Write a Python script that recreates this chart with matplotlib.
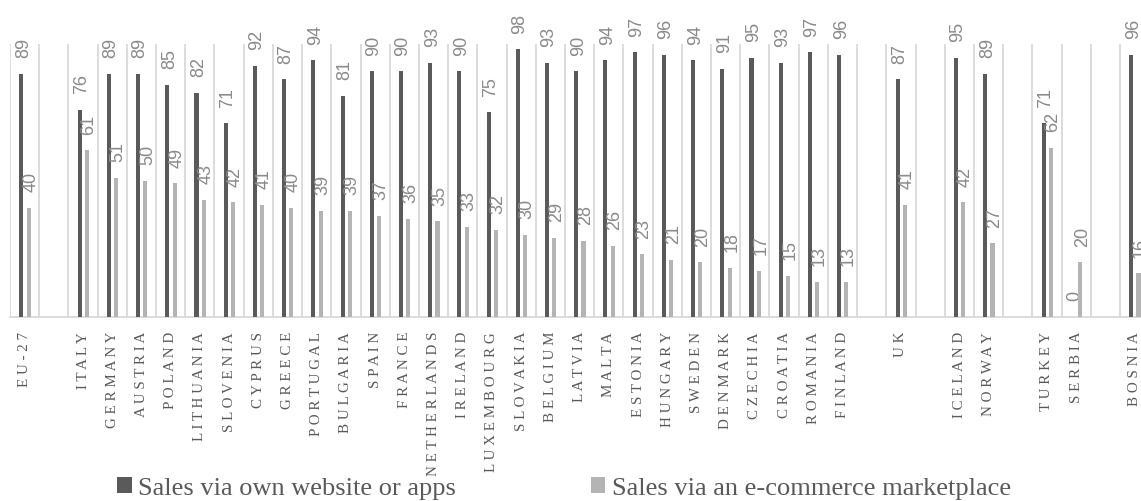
import numpy as np
import matplotlib.pyplot as plt
from matplotlib.patches import Patch

# categories ('' = empty slot between groups)
countries = ['EU-27', '', 'ITALY', 'GERMANY', 'AUSTRIA', 'POLAND', 'LITHUANIA', 'SLOVENIA',
             'CYPRUS', 'GREECE', 'PORTUGAL', 'BULGARIA', 'SPAIN', 'FRANCE', 'NETHERLANDS',
             'IRELAND', 'LUXEMBOURG', 'SLOVAKIA', 'BELGIUM', 'LATVIA', 'MALTA', 'ESTONIA',
             'HUNGARY', 'SWEDEN', 'DENMARK', 'CZECHIA', 'CROATIA', 'ROMANIA', 'FINLAND',
             '', 'UK', '', 'ICELAND', 'NORWAY', '', 'TURKEY', 'SERBIA', '', 'BOSNIA']
own_site = [89, None, 76, 89, 89, 85, 82, 71, 92, 87, 94, 81, 90, 90, 93, 90, 75, 98, 93,
            90, 94, 97, 96, 94, 91, 95, 93, 97, 96, None, 87, None, 95, 89, None, 71, 0, None, 96]
marketplace = [40, None, 61, 51, 50, 49, 43, 42, 41, 40, 39, 39, 37, 36, 35, 33, 32, 30, 29,
               28, 26, 23, 21, 20, 18, 17, 15, 13, 13, None, 41, None, 42, 27, None, 62, 20, None, 16]
series_names = ['Sales via own website or apps', 'Sales via an e-commerce marketplace']

dark = '#5a5a5a'
light = '#b4b4b4'
grid_c = '#d9d9d9'
text_c = '#595959'
label_c = '#8a8a8a'

fig = plt.figure(figsize=(11.41, 5.02), dpi=100)
ax = fig.add_axes([10 / 1141, (502 - 318) / 502, 39 * 29.21 / 1141, (318 - 45) / 502])

x = np.arange(len(countries))
bw = 0.14
for vals, off, color in [(own_site, -0.115, dark), (marketplace, 0.135, light)]:
    for xi, v in zip(x, vals):
        if v is None:
            continue
        ax.bar(xi + off, v, width=bw, color=color, zorder=3)
        ax.annotate(str(v), (xi + off, v), xytext=(1.5, 12), textcoords='offset points',
                    rotation=90, ha='center', va='bottom', fontsize=13, color=label_c,
                    family='Liberation Sans', annotation_clip=False)

ax.set_xlim(-0.5, len(countries) - 0.5)
ax.set_ylim(0, 100)

# slot boundaries as vertical gridlines
ax.set_xticks(np.arange(-0.5, len(countries)), minor=True)
ax.grid(True, which='minor', axis='x', color=grid_c, linewidth=1.3, zorder=0)
ax.set_yticks([])
ax.set_xticks(x)
ax.set_xticklabels([' '.join(c) for c in countries], rotation=90, va='top', ha='center',
                   family='Liberation Serif', fontsize=10.8, color=text_c)
ax.tick_params(axis='x', which='both', length=0, pad=10)
for s in ['top', 'right', 'left']:
    ax.spines[s].set_visible(False)
ax.spines['bottom'].set_color(grid_c)
ax.spines['bottom'].set_linewidth(1.3)

handles = [Patch(facecolor=dark), Patch(facecolor=light)]
fig.legend(handles, series_names, loc='center left', bbox_to_anchor=(117 / 1141, 1 - 489 / 502),
           ncol=2, frameon=False, prop={'family': 'Liberation Serif', 'size': 19},
           labelcolor=text_c, handlelength=0.55, handleheight=0.6, handletextpad=0.25,
           columnspacing=5.1, borderpad=0, borderaxespad=0)

fig.savefig('out.png', dpi=100)
